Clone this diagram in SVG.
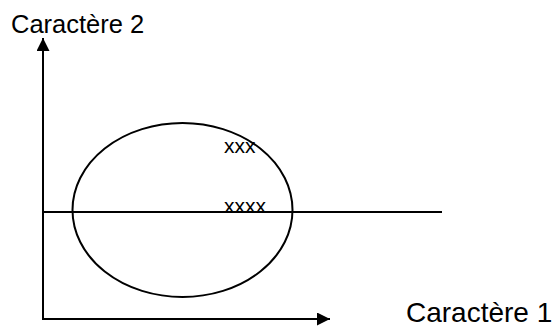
<svg xmlns="http://www.w3.org/2000/svg" width="556" height="327" viewBox="0 0 556 327">
<style>
.ln{stroke:#000;stroke-width:2;fill:none}
.t{font-family:"Liberation Sans",Arial,sans-serif;fill:#000}
</style>
<defs>
<marker id="ah" viewBox="0 0 12 12" refX="12" refY="6" markerWidth="13" markerHeight="13" markerUnits="userSpaceOnUse" orient="auto">
<path d="M0,0 L12,6 L0,12 Z" fill="#000"/>
</marker>
</defs>
<rect width="556" height="327" fill="#fff"/>
<g id="connectors">
<line class="ln" x1="43" y1="318" x2="43" y2="38" marker-end="url(#ah)"/>
<line class="ln" x1="42" y1="319" x2="330" y2="319" marker-end="url(#ah)"/>
<line class="ln" x1="42" y1="212" x2="442" y2="212"/>
</g>
<g id="ellipse">
<ellipse class="ln" cx="182.5" cy="210" rx="110" ry="87"/>
</g>
<g id="label-y"><text class="t" x="11" y="33" font-size="25.5">Caractère 2</text></g>
<g id="label-x"><text class="t" x="406" y="322" font-size="28">Caractère 1</text></g>
<g id="xxx"><text class="t" x="224" y="153" font-size="21">xxx</text></g>
<g id="xxxx"><text class="t" x="224" y="213" font-size="21">xxxx</text></g>
</svg>
